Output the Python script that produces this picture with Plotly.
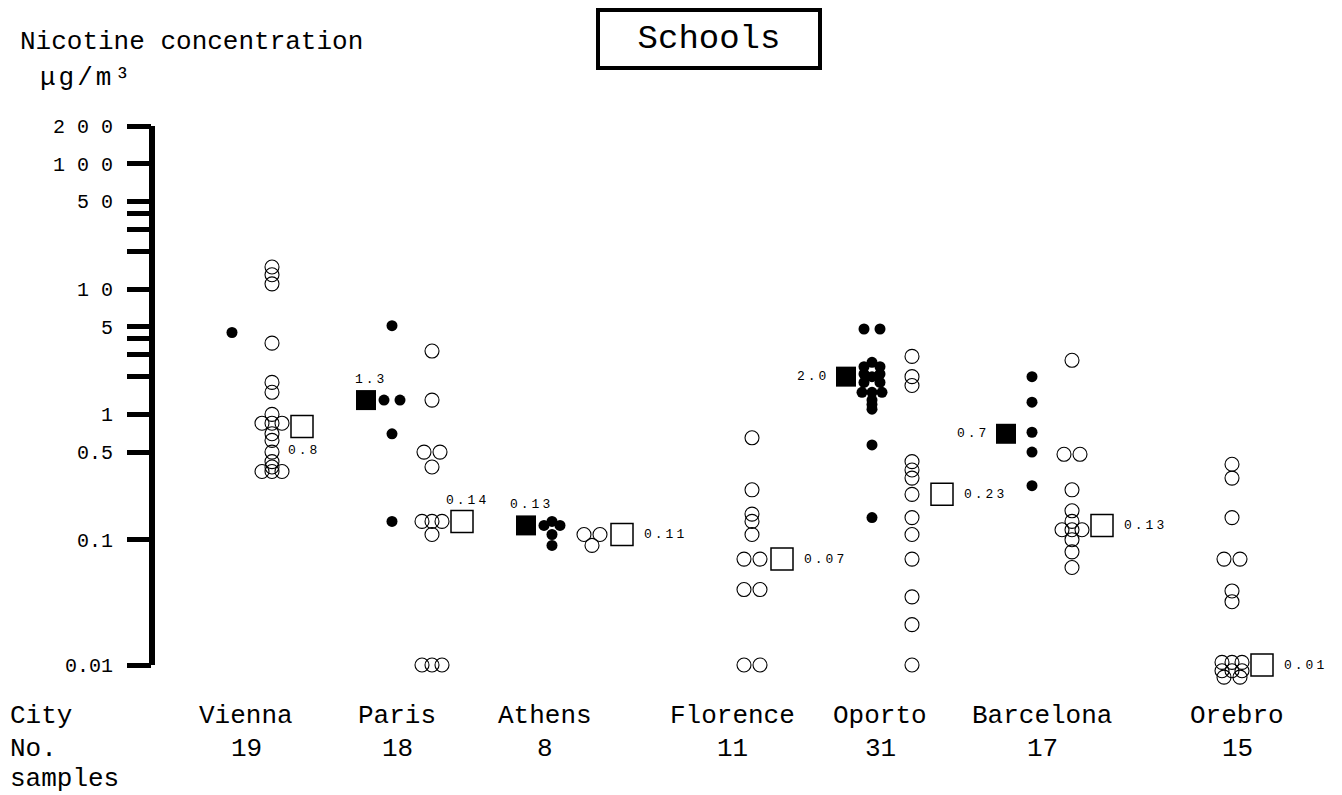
import numpy as np
import plotly.graph_objects as go

# ---- data -------------------------------------------------------------
cities = ["Vienna", "Paris", "Athens", "Florence", "Oporto", "Barcelona", "Orebro"]
n_samples = [19, 18, 8, 11, 31, 17, 15]

# nicotine concentration (µg/m³) per sample, filled = smoking areas, open = non-smoking areas
filled_vals = [
    [4.5],
    [5.1, 1.3, 1.3, 0.7, 0.14],
    [0.14, 0.13, 0.13, 0.11, 0.09],
    [],
    [4.8, 4.8, 2.6, 2.4, 2.4, 2.1, 2.1, 2.0, 1.8, 1.8, 1.5, 1.5, 1.5, 1.3, 1.2, 1.1, 0.57, 0.15],
    [2.0, 1.25, 0.72, 0.5, 0.27],
    [],
]
open_vals = [
    [15, 13, 11, 3.7, 1.8, 1.5, 1.0, 0.85, 0.85, 0.85, 0.7, 0.62, 0.5, 0.42, 0.38, 0.35, 0.35, 0.35],
    [3.2, 1.3, 0.5, 0.5, 0.38, 0.14, 0.14, 0.14, 0.11, 0.01, 0.01, 0.01],
    [0.11, 0.11, 0.09],
    [0.65, 0.25, 0.16, 0.14, 0.11, 0.07, 0.07, 0.04, 0.04, 0.01, 0.01],
    [2.9, 2.0, 1.7, 0.42, 0.36, 0.31, 0.23, 0.15, 0.11, 0.07, 0.035, 0.021, 0.01],
    [2.7, 0.48, 0.48, 0.25, 0.17, 0.14, 0.12, 0.12, 0.12, 0.1, 0.08, 0.06],
    [0.4, 0.31, 0.15, 0.07, 0.07, 0.039, 0.032, 0.0105, 0.0105, 0.0105, 0.009, 0.009, 0.009, 0.008, 0.008],
]
# summary value per city (squares)
filled_summary = [None, 1.3, 0.13, None, 2.0, 0.7, None]
open_summary = [0.8, 0.14, 0.11, 0.07, 0.23, 0.13, 0.01]

tick_vals = [200, 100, 50, 40, 30, 20, 10, 5, 4, 3, 2, 1, 0.5, 0.1, 0.01]
tick_text = ["2 0 0", "1 0 0", "5 0", "", "", "", "1 0", "5", "", "", "", "1", "0.5", "0.1", "0.01"]
axis_min, axis_max = 0.01, 200

# ---- layout constants --------------------------------------------------
W, H = 1342, 795
PPD = 125.3                        # pixels per decade on the y axis
Y_BOTTOM_PIX = 665                 # page row of the axis minimum
Y_LO = np.log10(0.0068)            # y range extends a little below the axis end
Y_HI = np.log10(axis_max)
L, R = 152, 0
T = Y_BOTTOM_PIX - (Y_HI - np.log10(axis_min)) * PPD
B = H - (Y_BOTTOM_PIX + (np.log10(axis_min) - Y_LO) * PPD)
UNIT = 160.0                       # pixels per city on the x axis
X0 = -100 / UNIT
X1 = X0 + (W - L - R) / UNIT
FONT = "Liberation Mono"

filled_col = -20 / UNIT
open_col = 20 / UNIT
filled_sq_col = -46 / UNIT
open_sq_col = 50 / UNIT

filled_label_pos = [None, "above", "above", None, "left", "left", None]
open_label_pos = ["below", "above", "right", "right", "right", "right", "right"]
city_nudge = [-6, -15, -27, 0, -12, -10, 25]


def spread(values):
    """Side-by-side offsets (in pixels) for equal values within one column."""
    counts = {}
    for v in values:
        counts[v] = counts.get(v, 0) + 1
    seen = {}
    out = []
    for v in values:
        n = counts[v]
        k = seen.get(v, 0)
        seen[v] = k + 1
        pitch = 16 if n == 2 else 10
        out.append((k - (n - 1) / 2) * pitch)
    return out


def column(groups, col):
    xs, ys = [], []
    for i, vals in enumerate(groups):
        for v, d in zip(vals, spread(vals)):
            xs.append(i + col + d / UNIT)
            ys.append(v)
    return xs, ys


fx, fy = column(filled_vals, filled_col)
ox, oy = column(open_vals, open_col)

fig = go.Figure()
fig.add_trace(go.Scatter(
    x=ox, y=oy, mode="markers", cliponaxis=False,
    marker=dict(symbol="circle-open", size=14, color="black", line=dict(width=1.1, color="black")),
))
fig.add_trace(go.Scatter(
    x=fx, y=fy, mode="markers", cliponaxis=False,
    marker=dict(symbol="circle", size=11, color="black"),
))

fsx = [i + filled_sq_col for i, v in enumerate(filled_summary) if v is not None]
fsy = [v for v in filled_summary if v is not None]
fig.add_trace(go.Scatter(
    x=fsx, y=fsy, mode="markers", cliponaxis=False,
    marker=dict(symbol="square", size=20, color="black"),
))
osx = [i + open_sq_col for i in range(len(open_summary))]
fig.add_trace(go.Scatter(
    x=osx, y=open_summary, mode="markers", cliponaxis=False,
    marker=dict(symbol="square-open", size=22, color="black", line=dict(width=1.5, color="black")),
))


def fmt(v):
    return f"{v:.1f}" if v >= 0.5 else f"{v:.2f}"


def spaced(text, px_gap):
    return f'<span style="letter-spacing:{px_gap}px">{text}</span>'


annotations = []


def value_label(x, v, pos):
    a = dict(x=x, y=np.log10(v), xref="x", yref="y", text=spaced(fmt(v), 3), showarrow=False,
             font=dict(family=FONT, size=13, color="black"))
    if pos == "right":
        a.update(xanchor="left", yanchor="middle", xshift=20)
    elif pos == "left":
        a.update(xanchor="right", yanchor="middle", xshift=-15)
    elif pos == "above":
        a.update(xanchor="center", yanchor="middle", yshift=21, xshift=5)
    else:
        a.update(xanchor="center", yanchor="middle", yshift=-24, xshift=2)
    annotations.append(a)


for i, v in enumerate(filled_summary):
    if v is not None:
        value_label(i + filled_sq_col, v, filled_label_pos[i])
for i, v in enumerate(open_summary):
    value_label(i + open_sq_col, v, open_label_pos[i])


def py(pix):
    """Paper y from a pixel row of the page."""
    return (H - B - pix) / (H - T - B)


def px(pix):
    return (pix - L) / (W - L - R)


big = dict(family=FONT, size=26, color="black")
for i, (c, n) in enumerate(zip(cities, n_samples)):
    annotations.append(dict(x=i, y=py(716), xref="x", yref="paper", text=c, showarrow=False,
                            xanchor="center", yanchor="middle", xshift=city_nudge[i], font=big))
    annotations.append(dict(x=i, y=py(749), xref="x", yref="paper", text=str(n), showarrow=False,
                            xanchor="center", yanchor="middle", xshift=city_nudge[i], font=big))

for text, x, y in [("City", 8, 716), ("No.", 8, 749), ("samples", 8, 779),
                   ("Nicotine concentration", 18, 42), (spaced("μg/m³", 3), 38, 78)]:
    annotations.append(dict(x=px(x), y=py(y), xref="paper", yref="paper", text=text, showarrow=False,
                            xanchor="left", yanchor="middle", font=big))

annotations.append(dict(x=px(709), y=py(39), xref="paper", yref="paper", text="Schools",
                        showarrow=False, xanchor="center", yanchor="middle",
                        font=dict(family=FONT, size=34, color="black"),
                        bordercolor="black", borderwidth=4, borderpad=0,
                        width=218, height=54, bgcolor="white"))

# vertical axis bar, running exactly from the lowest to the highest tick
shapes = [dict(type="line", xref="paper", yref="y", x0=0, x1=0,
               y0=axis_min, y1=axis_max,
               line=dict(color="black", width=6), layer="above")]

fig.update_layout(
    width=W, height=H, autosize=False,
    margin=dict(l=L, r=R, t=T, b=B, pad=0),
    paper_bgcolor="white", plot_bgcolor="white",
    showlegend=False,
    xaxis=dict(range=[X0, X1], visible=False, showgrid=False, zeroline=False),
    yaxis=dict(
        type="log", range=[Y_LO, Y_HI],
        tickmode="array", tickvals=tick_vals, ticktext=tick_text,
        ticks="outside", ticklen=24, tickwidth=5, tickcolor="black",
        showline=False, showgrid=False, zeroline=False,
        tickfont=dict(family=FONT, size=20, color="black"),
        ticklabelstandoff=10,
    ),
    shapes=shapes,
    annotations=annotations,
)

fig.write_html("out.html")
